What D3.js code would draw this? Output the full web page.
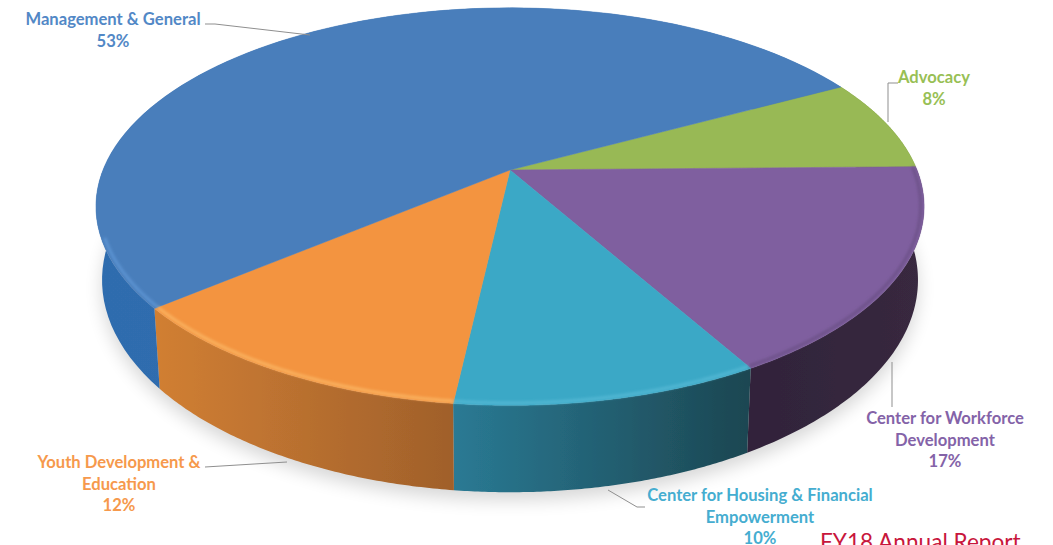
<!DOCTYPE html>
<html>
<head>
<meta charset="utf-8">
<script src="https://cdn.jsdelivr.net/npm/d3@7"></script>
<style>
    html, body { margin: 0; padding: 0; background: #fff; overflow: hidden; }
    text { font-family: Lato, "Open Sans", sans-serif; font-weight: 700; }
</style>
</head>
<body>
<svg width="1053" height="545"></svg>
<script>
// DATA
const categories = ['Advocacy', 'Center for Workforce Development', 'Center for Housing & Financial Empowerment', 'Youth Development & Education', 'Management & General'];
const values = [7.5, 17, 10.1, 12.2, 53.2];
const valueLabels = ['8%', '17%', '10%', '12%', '53%'];
const labelLines = [
    ['Advocacy'],
    ['Center for Workforce', 'Development'],
    ['Center for Housing & Financial', 'Empowerment'],
    ['Youth Development &', 'Education'],
    ['Management & General'],
];

// STYLES
const topColors = ['#98b954', '#7f5f9f', '#3ba8c6', '#f39440', '#4a7ebb'];
const textColors = ['#98bf55', '#8463a8', '#45add0', '#f6994c', '#5288c6'];
const rimColors = ['#98b954', '#6a4f85', '#56bad6', '#fbb866', '#5f97d6'];
const wallStops = [
    ['#6d8a3a', '#6d8a3a'],
    ['#30233a', '#38293f'],
    ['#2a7a94', '#1c4651'],
    ['#d17f33', '#a0602b'],
    ['#2f6cae', '#3370b3'],
];
const labelPos = [[934, 83], [945, 424], [760, 501], [119, 468], [113, 25]];
const leaders = [
    [[898, 83], [888, 83], [888, 122]],
    [[892, 362], [892, 407]],
    [[608, 490], [637, 507], [645, 507]],
    [[205, 467], [287, 462]],
    [[205, 24], [215, 24], [310, 35]],
];

const svg = d3.select('svg');
const defs = svg.append('defs');

// projection of the unit disc (u to the right, v to the viewer) onto the page
const k = 0.184;
const disc = (cx, cy, rx, ry) => (a, r = 1) => {
    const u = Math.cos(a) * r;
    const v = Math.sin(a) * r;
    const w = 1 - k * v;
    return [cx + rx * u / w, cy + ry * v / w];
};
const topDisc = disc(510, 170, 407, 192);
const bottomDisc = disc(510, 241, 401, 205);

const pie = d3.pie()
    .sort(null)
    .startAngle(-28 * Math.PI / 180)
    .endAngle((360 - 28) * Math.PI / 180);
const arcs = pie(values);

const line = d3.line().curve(d3.curveLinear);
const sweep = (a0, a1) => d3.range(0, 1.0001, 1 / 90).map(t => a0 + (a1 - a0) * t);

const blur = (id, dev) => defs.append('filter')
    .attr('id', id)
    .attr('x', '-20%').attr('y', '-20%').attr('width', '140%').attr('height', '140%')
    .append('feGaussianBlur').attr('stdDeviation', dev);
blur('shadow', 9);
blur('rim', 1.6);
blur('soft', 0.7);

// SHADOW
const circle = sweep(0, Math.PI * 2);
svg.append('path')
    .attr('d', line(circle.map(a => bottomDisc(a))) + 'Z')
    .attr('transform', 'translate(0, 8)')
    .attr('fill', '#000')
    .attr('opacity', 0.16)
    .attr('filter', 'url(#shadow)');

// WALLS
const g = svg.append('g').attr('filter', 'url(#soft)');
arcs.forEach((d, i) => {
    const angles = sweep(d.startAngle, d.endAngle);
    const xs = angles.map(a => topDisc(a)[0]);
    const id = `wall${i}`;
    const grad = defs.append('linearGradient')
        .attr('id', id)
        .attr('gradientUnits', 'userSpaceOnUse')
        .attr('x1', d3.min(xs)).attr('x2', d3.max(xs))
        .attr('y1', 0).attr('y2', 0);
    grad.append('stop').attr('offset', 0).attr('stop-color', wallStops[i][0]);
    grad.append('stop').attr('offset', 1).attr('stop-color', wallStops[i][1]);
    const pts = angles.map(a => topDisc(a)).concat(angles.slice().reverse().map(a => bottomDisc(a)));
    g.append('path')
        .attr('d', line(pts) + 'Z')
        .attr('fill', `url(#${id})`);
});

// TOP
arcs.forEach((d, i) => {
    const angles = sweep(d.startAngle, d.endAngle);
    const pts = [topDisc(0, 0)].concat(angles.map(a => topDisc(a)));
    g.append('path')
        .attr('d', line(pts) + 'Z')
        .attr('fill', topColors[i])
        .attr('stroke', topColors[i])
        .attr('stroke-width', 0.5);
});

// RIM HIGHLIGHT
arcs.forEach((d, i) => {
    const from = Math.max(d.startAngle, -0.02);
    const to = Math.min(d.endAngle, 2.8);
    if (from >= to) return;
    svg.append('path')
        .attr('d', line(sweep(from, to).map(a => topDisc(a, 0.992))))
        .attr('fill', 'none')
        .attr('stroke', rimColors[i])
        .attr('stroke-width', 2.5)
        .attr('filter', 'url(#rim)');
});

// LEADERS
svg.append('g').selectAll('path')
    .data(leaders)
    .enter()
    .append('path')
        .attr('d', d => line(d))
        .attr('fill', 'none')
        .attr('stroke', '#8f8f8f')
        .attr('stroke-width', 1);

// LABELS
const labels = svg.append('g').selectAll('text')
    .data(categories)
    .enter()
    .append('text')
        .attr('text-anchor', 'middle')
        .attr('font-size', 16.6)
        .attr('fill', (d, i) => textColors[i]);
labels.each(function(d, i) {
    const rows = labelLines[i].concat(valueLabels[i]);
    d3.select(this).selectAll('tspan')
        .data(rows)
        .enter()
        .append('tspan')
            .attr('x', labelPos[i][0])
            .attr('y', (r, j) => labelPos[i][1] + j * 21.7)
            .text(r => r);
});

svg.append('text')
    .attr('x', 820)
    .attr('y', 550)
    .attr('font-size', 22.6)
    .attr('fill', '#c8163c')
    .style('font-weight', 400)
    .text('FY18 Annual Report');
</script>
</body>
</html>
